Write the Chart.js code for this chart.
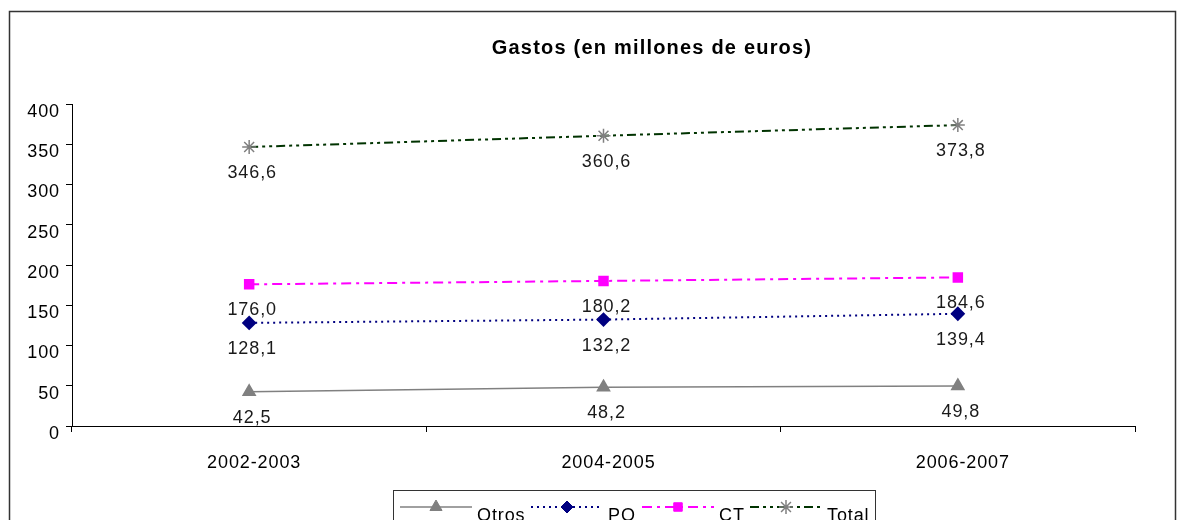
<!DOCTYPE html>
<html>
<head>
<meta charset="utf-8">
<script src="https://cdn.jsdelivr.net/npm/chart.js@4/dist/chart.umd.min.js"></script>
<style>
  html, body { margin: 0; padding: 0; background: #fff; }
  #wrap { width: 1178px; height: 520px; }
</style>
</head>
<body>
<div id="wrap"><canvas id="chart" width="1178" height="520"></canvas></div>
<script>
const categories = ['2002-2003', '2004-2005', '2006-2007'];
const otros = [42.5, 48.2, 49.8];
const po = [128.1, 132.2, 139.4];
const ct = [176.0, 180.2, 184.6];
const total = [346.6, 360.6, 373.8];
const seriesNames = ['Otros', 'PO', 'CT', 'Total'];

const FONT = 'Liberation Sans, Arial, sans-serif';
const SPACING = '0.9px';

// widen the text a little, like the original
const spacingPlugin = {
    id: 'spacing',
    beforeDraw(chart) {
        chart.ctx.letterSpacing = SPACING;
    }
};

// frame, title, value labels and legend
const decorPlugin = {
    id: 'decor',
    afterDraw(chart) {
        const ctx = chart.ctx;
        ctx.save();

        // outer frame
        ctx.strokeStyle = '#333';
        ctx.lineWidth = 1.5;
        ctx.beginPath();
        ctx.moveTo(9.5, 530);
        ctx.lineTo(9.5, 11.5);
        ctx.lineTo(1175.5, 11.5);
        ctx.lineTo(1175.5, 530);
        ctx.stroke();

        // title
        ctx.fillStyle = '#000';
        ctx.letterSpacing = '1.2px';
        ctx.font = 'bold 20px ' + FONT;
        ctx.textAlign = 'center';
        ctx.textBaseline = 'middle';
        ctx.fillText('Gastos (en millones de euros)', 652, 48);

        // value labels under each point
        ctx.letterSpacing = SPACING;
        ctx.font = '18px ' + FONT;
        ctx.fillStyle = '#1a1a1a';
        chart.data.datasets.forEach((ds, i) => {
            const meta = chart.getDatasetMeta(i);
            meta.data.forEach((pt, j) => {
                const txt = ds.data[j].toFixed(1).replace('.', ',');
                ctx.fillText(txt, pt.x + 3, pt.y + 26);
            });
        });

        // legend
        ctx.strokeStyle = '#333';
        ctx.lineWidth = 1;
        ctx.strokeRect(393.5, 490.5, 482, 40);
        const starts = [400, 531, 642, 750];
        chart.data.datasets.forEach((ds, i) => {
            const x0 = starts[i];
            const y = 507;
            ctx.save();
            ctx.strokeStyle = ds.borderColor;
            ctx.lineWidth = ds.borderWidth;
            ctx.setLineDash(ds.borderDash || []);
            ctx.beginPath();
            ctx.moveTo(x0, y);
            ctx.lineTo(x0 + 72, y);
            ctx.stroke();
            ctx.restore();
            ctx.save();
            ctx.fillStyle = ds.pointBackgroundColor;
            ctx.strokeStyle = ds.pointBorderColor;
            ctx.lineWidth = ds.pointBorderWidth || 1;
            Chart.helpers.drawPoint(ctx, {
                pointStyle: ds.pointStyle,
                radius: ds.pointRadius,
                borderWidth: ds.pointBorderWidth || 1,
                rotation: 0
            }, x0 + 36, y);
            ctx.restore();
            ctx.fillStyle = '#000';
            ctx.font = '18px ' + FONT;
            ctx.textAlign = 'left';
            ctx.textBaseline = 'alphabetic';
            ctx.fillText(ds.label, x0 + 77, 521);
        });
        ctx.restore();
    }
};

const chart = new Chart(document.getElementById('chart'), {
    type: 'line',
    data: {
        labels: categories,
        datasets: [
            {
                label: seriesNames[0], data: otros,
                borderColor: '#808080', borderWidth: 1.5,
                pointStyle: 'triangle', pointRadius: 7,
                pointBackgroundColor: '#808080', pointBorderColor: '#808080'
            },
            {
                label: seriesNames[1], data: po,
                borderColor: '#000080', borderWidth: 2, borderDash: [2, 4],
                pointStyle: 'rectRot', pointRadius: 6,
                pointBackgroundColor: '#000080', pointBorderColor: '#000080'
            },
            {
                label: seriesNames[2], data: ct,
                borderColor: '#ff00ff', borderWidth: 2, borderDash: [10, 5, 3, 5],
                pointStyle: 'rect', pointRadius: 6,
                pointBackgroundColor: '#ff00ff', pointBorderColor: '#ff00ff'
            },
            {
                label: seriesNames[3], data: total,
                borderColor: '#003300', borderWidth: 2, borderDash: [9, 4, 3, 4, 3, 4],
                pointStyle: 'star', pointRadius: 7, pointBorderWidth: 1.5,
                pointBackgroundColor: '#808080', pointBorderColor: '#808080'
            }
        ]
    },
    options: {
        responsive: false,
        animation: false,
        layout: { padding: { left: 0, right: 43, top: 104, bottom: 0 } },
        plugins: {
            legend: { display: false },
            title: { display: false },
            tooltip: { enabled: false }
        },
        scales: {
            x: {
                offset: true,
                grid: { offset: true, drawOnChartArea: false, drawTicks: true, tickLength: 6, color: '#000' },
                border: { color: '#000', width: 1 },
                ticks: { color: '#000', font: { family: FONT, size: 18 }, padding: 20, maxRotation: 0, labelOffset: 5 },
                afterFit(scale) { scale.height = 94; }
            },
            y: {
                min: 0, max: 400,
                ticks: { stepSize: 50, color: '#000', font: { family: FONT, size: 18 }, padding: 6, labelOffset: 8 },
                grid: { drawOnChartArea: false, drawTicks: true, tickLength: 6, color: '#000' },
                border: { color: '#000', width: 1 },
                afterFit(scale) { scale.width = 72; }
            }
        }
    },
    plugins: [spacingPlugin, decorPlugin]
});
</script>
</body>
</html>
